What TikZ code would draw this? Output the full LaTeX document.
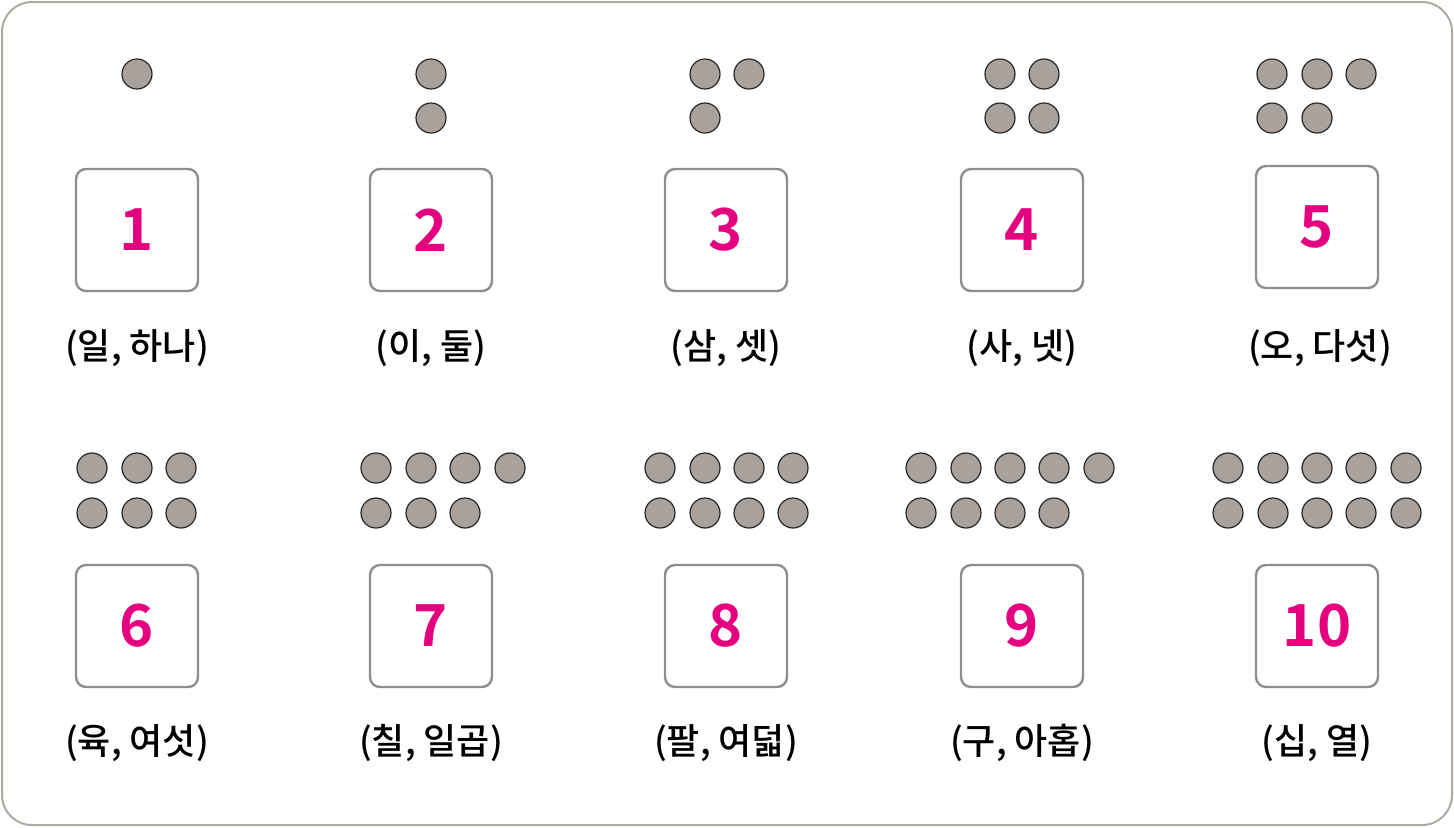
\documentclass[tikz,border=0pt]{standalone}
\usepackage{fontspec}
\setmainfont{Noto Sans CJK KR}[BoldFont={Noto Sans CJK KR Bold}]
\newfontfamily\krmedium{Noto Sans CJK KR}[UprightFont={* Medium}]
\usetikzlibrary{positioning}
\definecolor{framegray}{HTML}{B0A9A2}
\definecolor{boxgray}{HTML}{8E8E8E}
\definecolor{dotfill}{HTML}{A9A19C}
\definecolor{numpink}{HTML}{E4007F}
\tikzset{
        frame/.style = {draw=framegray, line width=1pt, rounded corners=15pt},
        dot/.style = {fill=dotfill, draw=black!85, line width=0.6pt},
        numbox/.style = {draw=boxgray, line width=1.2pt, rounded corners=5pt, minimum size=61pt, inner sep=0pt},
        numtext/.style = {text=numpink, font=\fontsize{29}{29}\selectfont\bfseries},
        reading/.style = {font=\krmedium\fontsize{18}{21}\selectfont}
}

\begin{document}
\begin{tikzpicture}[x=0.5pt, y=-0.5pt]

        \useasboundingbox (0,0) rectangle (1454,827);

        % Outer frame
        \draw [frame] (2,2) rectangle (1452,825);

        % Dots, first row
        \foreach \x/\y in {137/74, 431/74, 431/118, 705/74, 749/74, 705/118,
                1000/74, 1044/74, 1000/118, 1044/118,
                1272/74, 1317/74, 1361/74, 1272/118, 1317/118}
                \draw [dot] (\x,\y) circle (15);

        % Dots, second row
        \foreach \x in {92,137,181, 376,421,465,510, 660,705,749,793, 921,966,1010,1054,1099, 1228,1273,1317,1361,1406}
                \draw [dot] (\x,468) circle (15);
        \foreach \x in {92,137,181, 376,421,465, 660,705,749,793, 921,966,1010,1054, 1228,1273,1317,1361,1406}
                \draw [dot] (\x,513) circle (15);

        % Number boxes
        \node [numbox, numtext] (box1) at (137,230) {1};
        \node [numbox, numtext] (box2) at (431,230) {2};
        \node [numbox, numtext] (box3) at (726,230) {3};
        \node [numbox, numtext] (box4) at (1022,230) {4};
        \node [numbox, numtext] (box5) at (1317,227) {5};
        \node [numbox, numtext] (box6) at (137,626) {6};
        \node [numbox, numtext] (box7) at (431,626) {7};
        \node [numbox, numtext] (box8) at (726,626) {8};
        \node [numbox, numtext] (box9) at (1022,626) {9};
        \node [numbox, numtext] (box10) at (1317,626) {10};

        % Readings
        \node [reading] (read1) at (137,348) {(일, 하나)};
        \node [reading] (read2) at (431,348) {(이, 둘)};
        \node [reading] (read3) at (726,348) {(삼, 셋)};
        \node [reading] (read4) at (1022,348) {(사, 넷)};
        \node [reading] (read5) at (1320,348) {(오, 다섯)};
        \node [reading] (read6) at (137,743) {(육, 여섯)};
        \node [reading] (read7) at (431,743) {(칠, 일곱)};
        \node [reading] (read8) at (726,743) {(팔, 여덟)};
        \node [reading] (read9) at (1022,743) {(구, 아홉)};
        \node [reading] (read10) at (1317,743) {(십, 열)};

\end{tikzpicture}
\end{document}
